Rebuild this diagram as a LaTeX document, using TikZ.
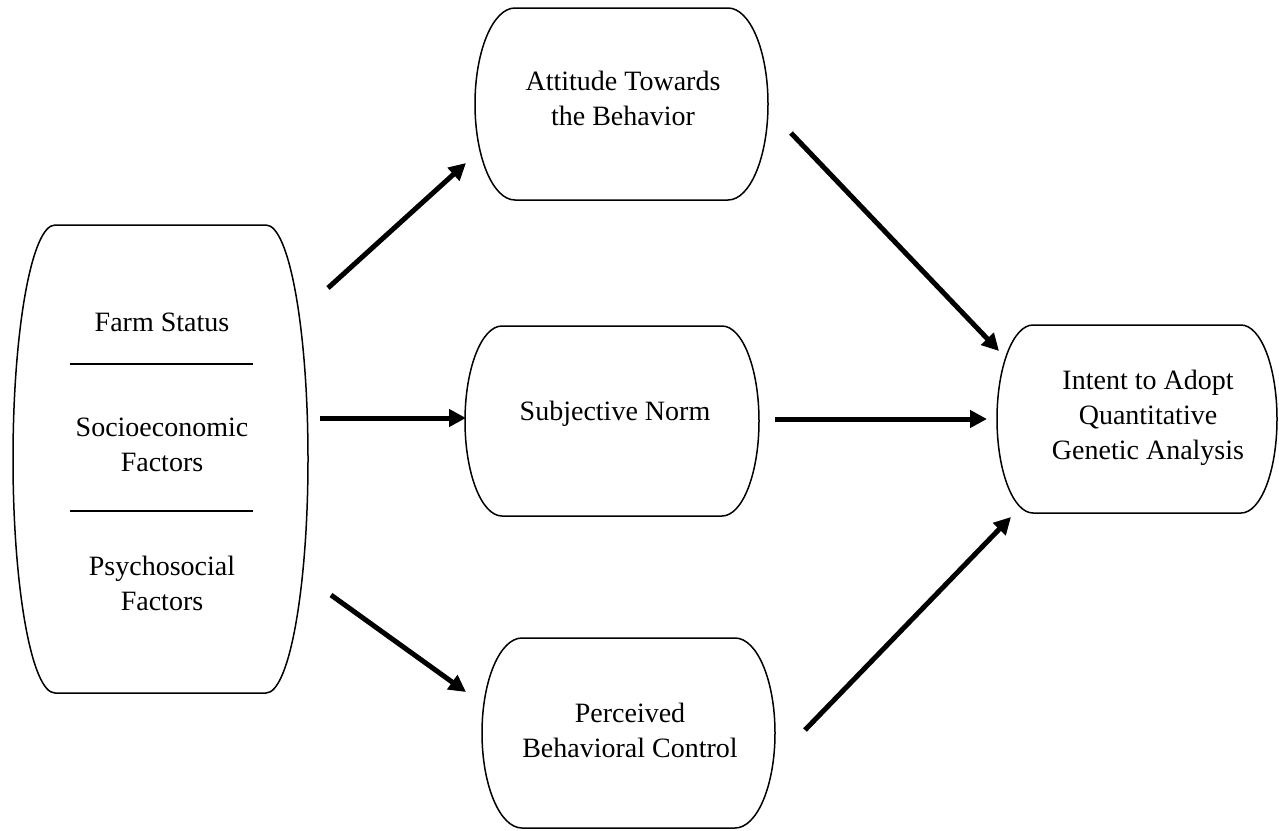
\documentclass[tikz,border=0pt]{standalone}
\usepackage{fontspec}
\setmainfont{Liberation Serif}
\usetikzlibrary{arrows.meta}
\newcommand{\capbox}[5]{%
  \pgfmathsetmacro\capym{(#2+#4)/2}%
  \pgfmathsetmacro\caphh{(#4-#2)/2*0.5523}%
  \pgfmathsetmacro\capcx{#5*0.5523}%
  \draw[boxline] ({#1+#5},#2) -- ({#3-#5},#2)
    .. controls ({#3-#5+\capcx},#2) and (#3,{\capym-\caphh}) .. (#3,\capym)
    .. controls (#3,{\capym+\caphh}) and ({#3-#5+\capcx},#4) .. ({#3-#5},#4)
    -- ({#1+#5},#4)
    .. controls ({#1+#5-\capcx},#4) and (#1,{\capym+\caphh}) .. (#1,\capym)
    .. controls (#1,{\capym-\caphh}) and ({#1+#5-\capcx},#2) .. cycle;}
\tikzset{
  boxline/.style={line width=1.5pt, black},
  lbl/.style={align=center, font=\fontsize{28}{35}\selectfont, inner sep=0pt},
  arr/.style={line width=5pt, -{Triangle[length=17pt,width=17pt]}},
  divider/.style={line width=1.5pt}
}
\begin{document}
\begin{tikzpicture}[x=1pt,y=-1pt]
\path[use as bounding box] (0,0) rectangle (1279,830);
% boxes
\capbox{13}{225}{308}{693}{42}
\capbox{475}{8}{768}{200}{40}
\capbox{465}{326}{759}{516}{37}
\capbox{482}{638}{775}{828}{40}
\capbox{997}{325}{1277}{513}{36}
% left box contents
\node[lbl] (fs) at (162,322) {Farm Status};
\node[lbl] (se) at (162,445) {Socioeconomic\\Factors};
\node[lbl] (ps) at (162,583) {Psychosocial\\Factors};
\coordinate (d1a) at (70,364); \coordinate (d1b) at (253,364);
\coordinate (d2a) at (70,511); \coordinate (d2b) at (253,511);
\draw[divider] (d1a) -- (d1b);
\draw[divider] (d2a) -- (d2b);
% other nodes
\node[lbl] (att) at (623,98) {Attitude Towards\\the Behavior};
\node[lbl] (sn) at (615,414) {Subjective Norm};
\node[lbl] (pbc) at (630,730) {Perceived\\Behavioral Control};
\node[lbl] (int) at (1148,418) {Intent to Adopt\\Quantitative\\Genetic Analysis};
% arrow end points
\coordinate (a1s) at (328,288); \coordinate (a1e) at (466,163);
\coordinate (a2s) at (320,418); \coordinate (a2e) at (466,418);
\coordinate (a3s) at (331,595); \coordinate (a3e) at (466,692);
\coordinate (a4s) at (791,133); \coordinate (a4e) at (999,351);
\coordinate (a5s) at (775,419); \coordinate (a5e) at (987,419);
\coordinate (a6s) at (805,730); \coordinate (a6e) at (1011,517);
\draw[arr] (a1s) -- (a1e);
\draw[arr] (a2s) -- (a2e);
\draw[arr] (a3s) -- (a3e);
\draw[arr] (a4s) -- (a4e);
\draw[arr] (a5s) -- (a5e);
\draw[arr] (a6s) -- (a6e);
\end{tikzpicture}
\end{document}
